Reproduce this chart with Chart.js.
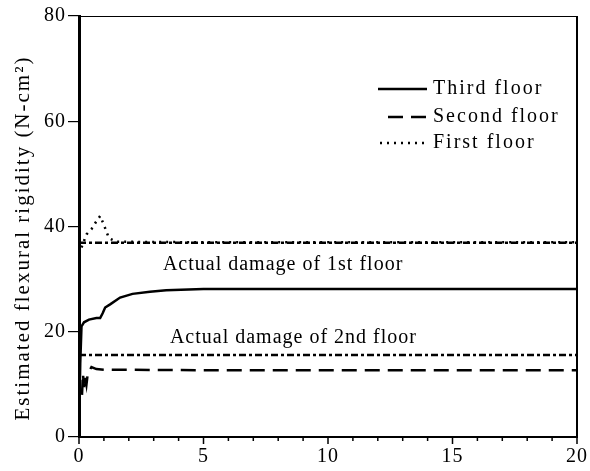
<!DOCTYPE html>
<html><head><meta charset="utf-8">
<script src="https://cdn.jsdelivr.net/npm/chart.js@4"></script>
<style>html,body{margin:0;padding:0;background:#fff}</style>
</head><body>
<canvas id="c" width="590" height="471"></canvas>
<script>
// ---- data ----
const thirdFloorX = [0, 0.05, 0.1, 0.2, 0.4, 0.7, 0.85, 0.95, 1.05, 1.25, 1.65, 2.15, 2.85, 3.5, 5, 10, 15, 20];
const thirdFloorY = [0.5, 14, 21, 21.8, 22.3, 22.6, 22.6, 23.5, 24.6, 25.2, 26.5, 27.2, 27.6, 27.9, 28.1, 28.1, 28.1, 28.1];
const secondFloorX = [0.12, 0.16, 0.2, 0.25, 0.3, 0.35, 0.5, 0.7, 1.0, 5, 10, 15, 20];
const secondFloorY = [8, 12, 9.5, 11.5, 10, 12, 13.3, 12.9, 12.8, 12.7, 12.7, 12.7, 12.7];
const firstFloorX = [0.1, 0.3, 0.5, 0.7, 0.85, 1.0, 1.2, 1.5, 5, 10, 15, 20];
const firstFloorY = [36, 38.5, 39.5, 41, 42, 40.3, 37.8, 37.1, 37, 37, 37, 37];
const actualDamageX = [0, 20];
const actualDamage1st = [36.9, 36.9];
const actualDamage2nd = [15.6, 15.6];
const seriesNames = ['Third floor', 'Second floor', 'First floor'];
const annotationTexts = ['Actual damage of 1st floor', 'Actual damage of 2nd floor'];
const annotationX = [3.37, 3.65];
const annotationY = [32.8, 18.9];
const xTickValues = [0, 5, 10, 15, 20];
const yTickValues = [0, 20, 40, 60, 80];
const yAxisTitle = 'Estimated flexural rigidity (N-cm\u00B2)';

const pts = (xs, ys) => xs.map((v, i) => ({x: v, y: ys[i]}));
const FONT = '"Liberation Serif", "Times New Roman", serif';

const deco = {
  id: 'deco',
  beforeDraw(chart) { chart.ctx.letterSpacing = '1px'; },
  afterDraw(chart) {
    const {ctx, chartArea: a, scales: {x, y}} = chart;
    ctx.save();
    ctx.strokeStyle = '#000';
    ctx.fillStyle = '#000';
    // top and right frame
    ctx.lineWidth = 1;
    ctx.beginPath(); ctx.moveTo(a.left, a.top + 0.5); ctx.lineTo(a.right, a.top + 0.5); ctx.stroke();
    ctx.lineWidth = 2;
    ctx.beginPath(); ctx.moveTo(a.right, a.top); ctx.lineTo(a.right, a.bottom); ctx.stroke();
    // x ticks (outside, minor at each unit)
    ctx.lineWidth = 1.5;
    ctx.beginPath();
    for (let v = 0; v <= 20; v++) {
      const px = x.getPixelForValue(v);
      const len = xTickValues.includes(v) ? 7 : 4;
      ctx.moveTo(px, a.bottom); ctx.lineTo(px, a.bottom + len);
    }
    ctx.stroke();
    // y axis title
    ctx.save();
    ctx.translate(23, 238);
    ctx.rotate(-Math.PI / 2);
    ctx.font = '21px ' + FONT;
    ctx.letterSpacing = '2px';
    ctx.textAlign = 'center';
    ctx.textBaseline = 'middle';
    ctx.fillText(yAxisTitle, 0, 0);
    ctx.restore();
    // annotations
    ctx.font = '20px ' + FONT;
    ctx.letterSpacing = '1px';
    ctx.textAlign = 'left';
    ctx.textBaseline = 'middle';
    annotationTexts.forEach((t, i) => {
      ctx.fillText(t, x.getPixelForValue(annotationX[i]), y.getPixelForValue(annotationY[i]));
    });
    // legend
    const ds = chart.data.datasets;
    const rows = [89, 117, 143];
    const starts = [378, 388, 380];
    ctx.letterSpacing = '2px';
    for (let i = 0; i < 3; i++) {
      ctx.save();
      ctx.lineWidth = ds[i].borderWidth;
      ctx.setLineDash(ds[i].borderDash || []);
      ctx.beginPath(); ctx.moveTo(starts[i], rows[i]); ctx.lineTo(427, rows[i]); ctx.stroke();
      ctx.restore();
      ctx.fillText(ds[i].label, 433, rows[i]);
    }
    ctx.restore();
  }
};

new Chart(document.getElementById('c'), {
  type: 'line',
  data: {
    datasets: [
      {label: seriesNames[0], data: pts(thirdFloorX, thirdFloorY), borderColor: '#000', borderWidth: 2.5, borderDash: []},
      {label: seriesNames[1], data: pts(secondFloorX, secondFloorY), borderColor: '#000', borderWidth: 2.5, borderDash: [15, 8]},
      {label: seriesNames[2], data: pts(firstFloorX, firstFloorY), borderColor: '#000', borderWidth: 2.5, borderDash: [2, 5]},
      {label: 'Actual damage of 1st floor', data: pts(actualDamageX, actualDamage1st), borderColor: '#000', borderWidth: 2.5, borderDash: [7, 3, 3, 3]},
      {label: 'Actual damage of 2nd floor', data: pts(actualDamageX, actualDamage2nd), borderColor: '#000', borderWidth: 2.5, borderDash: [7, 3, 3, 3]}
    ]
  },
  options: {
    responsive: false,
    animation: false,
    events: [],
    elements: {point: {radius: 0}, line: {tension: 0, fill: false}},
    layout: {padding: {left: 0, right: 13, top: 16, bottom: 0}},
    plugins: {legend: {display: false}, tooltip: {enabled: false}},
    scales: {
      x: {
        type: 'linear', min: 0, max: 20,
        afterBuildTicks: s => { s.ticks = xTickValues.map(v => ({value: v})); },
        afterFit: s => { s.height = 34; s.paddingLeft = 0; s.paddingRight = 0; },
        grid: {display: false, drawTicks: false},
        border: {display: true, color: '#000', width: 2},
        ticks: {color: '#000', padding: 8, maxRotation: 0, autoSkip: false, font: {family: FONT, size: 20}}
      },
      y: {
        type: 'linear', min: 0, max: 80,
        afterBuildTicks: s => { s.ticks = yTickValues.map(v => ({value: v})); },
        afterFit: s => { s.width = 79; s.paddingTop = 0; s.paddingBottom = 0; },
        grid: {drawOnChartArea: false, drawTicks: true, tickLength: 11, color: '#000', lineWidth: 1.2},
        border: {display: true, color: '#000', width: 3},
        ticks: {color: '#000', padding: 2, font: {family: FONT, size: 20}}
      }
    }
  },
  plugins: [deco]
});
</script>
</body></html>
